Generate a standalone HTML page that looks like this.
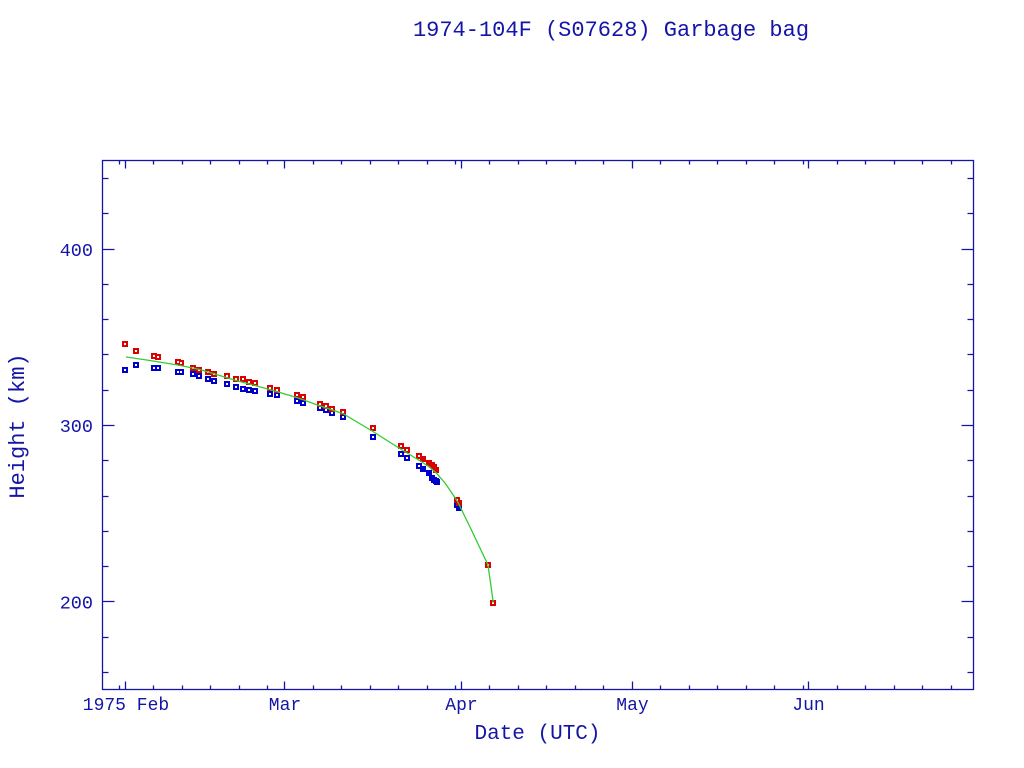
<!DOCTYPE html>
<html>
<head>
<meta charset="utf-8">
<style>
  html,body{margin:0;padding:0;background:#fff;}
  svg{display:block;}
  text{font-family:"Liberation Mono","DejaVu Sans Mono",monospace;fill:#1414a8;}
</style>
</head>
<body>
<svg width="1024" height="768" viewBox="0 0 1024 768" xmlns="http://www.w3.org/2000/svg">
  <rect x="0" y="0" width="1024" height="768" fill="#fff"/>

  <!-- title -->
  <text x="611" y="36" font-size="22" text-anchor="middle">1974-104F (S07628) Garbage bag</text>

  <!-- frame -->
  <g stroke="#1414a8" stroke-width="1.3" fill="none">
    <rect x="102.5" y="160.5" width="871" height="529"/>
    <!-- x ticks bottom & top -->
    <path d="
      M119.5 689.5V685.5 M125.5 689.5V681.5 M153.5 689.5V685.5 M182.5 689.5V685.5 M210.5 689.5V685.5 M239.5 689.5V685.5 M267.5 689.5V685.5
      M284.5 689.5V681.5 M313.5 689.5V685.5 M341.5 689.5V685.5 M370.5 689.5V685.5 M398.5 689.5V685.5 M427.5 689.5V685.5 M455.5 689.5V685.5
      M461.5 689.5V681.5 M489.5 689.5V685.5 M518.5 689.5V685.5 M546.5 689.5V685.5 M575.5 689.5V685.5 M603.5 689.5V685.5
      M632.5 689.5V681.5 M660.5 689.5V685.5 M689.5 689.5V685.5 M717.5 689.5V685.5 M746.5 689.5V685.5 M774.5 689.5V685.5 M803.5 689.5V685.5
      M808.5 689.5V681.5 M837.5 689.5V685.5 M865.5 689.5V685.5 M894.5 689.5V685.5 M922.5 689.5V685.5 M951.5 689.5V685.5
      M119.5 160.5V164.5 M125.5 160.5V168.5 M153.5 160.5V164.5 M182.5 160.5V164.5 M210.5 160.5V164.5 M239.5 160.5V164.5 M267.5 160.5V164.5
      M284.5 160.5V168.5 M313.5 160.5V164.5 M341.5 160.5V164.5 M370.5 160.5V164.5 M398.5 160.5V164.5 M427.5 160.5V164.5 M455.5 160.5V164.5
      M461.5 160.5V168.5 M489.5 160.5V164.5 M518.5 160.5V164.5 M546.5 160.5V164.5 M575.5 160.5V164.5 M603.5 160.5V164.5
      M632.5 160.5V168.5 M660.5 160.5V164.5 M689.5 160.5V164.5 M717.5 160.5V164.5 M746.5 160.5V164.5 M774.5 160.5V164.5 M803.5 160.5V164.5
      M808.5 160.5V168.5 M837.5 160.5V164.5 M865.5 160.5V164.5 M894.5 160.5V164.5 M922.5 160.5V164.5 M951.5 160.5V164.5
    "/>
    <!-- y ticks left & right -->
    <path d="
      M102.5 178.5H108.5 M102.5 213.5H108.5 M102.5 249.5H114.5 M102.5 284.5H108.5 M102.5 319.5H108.5 M102.5 354.5H108.5 M102.5 390.5H108.5
      M102.5 425.5H114.5 M102.5 460.5H108.5 M102.5 496.5H108.5 M102.5 531.5H108.5 M102.5 566.5H108.5 M102.5 601.5H114.5 M102.5 637.5H108.5 M102.5 672.5H108.5
      M973.5 178.5H967.5 M973.5 213.5H967.5 M973.5 249.5H961.5 M973.5 284.5H967.5 M973.5 319.5H967.5 M973.5 354.5H967.5 M973.5 390.5H967.5
      M973.5 425.5H961.5 M973.5 460.5H967.5 M973.5 496.5H967.5 M973.5 531.5H967.5 M973.5 566.5H967.5 M973.5 601.5H961.5 M973.5 637.5H967.5 M973.5 672.5H967.5
    "/>
  </g>

  <!-- y tick labels -->
  <text x="93" y="256" font-size="18.5" text-anchor="end">400</text>
  <text x="93" y="432" font-size="18.5" text-anchor="end">300</text>
  <text x="93" y="608.5" font-size="18.5" text-anchor="end">200</text>

  <!-- x tick labels -->
  <text x="126" y="710" font-size="18" text-anchor="middle">1975 Feb</text>
  <text x="285" y="710" font-size="18" text-anchor="middle">Mar</text>
  <text x="461.5" y="710" font-size="18" text-anchor="middle">Apr</text>
  <text x="632.5" y="710" font-size="18" text-anchor="middle">May</text>
  <text x="808.5" y="710" font-size="18" text-anchor="middle">Jun</text>

  <!-- axis labels -->
  <text x="537.5" y="739" font-size="21" text-anchor="middle">Date (UTC)</text>
  <text x="0" y="0" font-size="22" text-anchor="middle" transform="translate(24,426) rotate(-90)">Height (km)</text>

  <!-- blue markers -->
  <g fill="#0000cc">
    <rect x="122" y="367" width="6" height="6"/>
    <rect x="133" y="362" width="6" height="6"/>
    <rect x="151" y="365" width="6" height="6"/>
    <rect x="155" y="365" width="6" height="6"/>
    <rect x="175" y="369" width="6" height="6"/>
    <rect x="178" y="369" width="6" height="6"/>
    <rect x="190" y="371" width="6" height="6"/>
    <rect x="196" y="373" width="6" height="6"/>
    <rect x="205" y="376" width="6" height="6"/>
    <rect x="211" y="378" width="6" height="6"/>
    <rect x="224" y="381" width="6" height="6"/>
    <rect x="233" y="384" width="6" height="6"/>
    <rect x="240" y="386" width="6" height="6"/>
    <rect x="246" y="387" width="6" height="6"/>
    <rect x="252" y="388" width="6" height="6"/>
    <rect x="267" y="391" width="6" height="6"/>
    <rect x="274" y="392" width="6" height="6"/>
    <rect x="294" y="398" width="6" height="6"/>
    <rect x="300" y="400" width="6" height="6"/>
    <rect x="317" y="405" width="6" height="6"/>
    <rect x="323" y="407" width="6" height="6"/>
    <rect x="329" y="410" width="6" height="6"/>
    <rect x="340" y="414" width="6" height="6"/>
    <rect x="370" y="434" width="6" height="6"/>
    <rect x="398" y="451" width="6" height="6"/>
    <rect x="404" y="455" width="6" height="6"/>
    <rect x="416" y="463" width="6" height="6"/>
    <rect x="420" y="466" width="6" height="6"/>
    <rect x="426" y="470" width="6" height="6"/>
    <rect x="429" y="475" width="6" height="6"/>
    <rect x="431" y="477" width="6" height="6"/>
    <rect x="433" y="478" width="6" height="6"/>
    <rect x="434" y="479" width="6" height="6"/>
    <rect x="454" y="502" width="6" height="6"/>
    <rect x="456" y="505" width="6" height="6"/>
  </g>
  <g fill="#fff">
    <rect x="124" y="369" width="2" height="2"/>
    <rect x="135" y="364" width="2" height="2"/>
    <rect x="153" y="367" width="2" height="2"/>
    <rect x="157" y="367" width="2" height="2"/>
    <rect x="177" y="371" width="2" height="2"/>
    <rect x="180" y="371" width="2" height="2"/>
    <rect x="192" y="373" width="2" height="2"/>
    <rect x="198" y="375" width="2" height="2"/>
    <rect x="207" y="378" width="2" height="2"/>
    <rect x="213" y="380" width="2" height="2"/>
    <rect x="226" y="383" width="2" height="2"/>
    <rect x="235" y="386" width="2" height="2"/>
    <rect x="242" y="388" width="2" height="2"/>
    <rect x="248" y="389" width="2" height="2"/>
    <rect x="254" y="390" width="2" height="2"/>
    <rect x="269" y="393" width="2" height="2"/>
    <rect x="276" y="394" width="2" height="2"/>
    <rect x="296" y="400" width="2" height="2"/>
    <rect x="302" y="402" width="2" height="2"/>
    <rect x="319" y="407" width="2" height="2"/>
    <rect x="325" y="409" width="2" height="2"/>
    <rect x="331" y="412" width="2" height="2"/>
    <rect x="342" y="416" width="2" height="2"/>
    <rect x="372" y="436" width="2" height="2"/>
    <rect x="400" y="453" width="2" height="2"/>
    <rect x="406" y="457" width="2" height="2"/>
    <rect x="418" y="465" width="2" height="2"/>
    <rect x="456" y="504" width="2" height="2"/>
  </g>

  <!-- red markers -->
  <g fill="#dd0000">
    <rect x="122" y="341" width="6" height="6"/>
    <rect x="133" y="348" width="6" height="6"/>
    <rect x="151" y="353" width="6" height="6"/>
    <rect x="155" y="354" width="6" height="6"/>
    <rect x="175" y="359" width="6" height="6"/>
    <rect x="178" y="360" width="6" height="6"/>
    <rect x="190" y="365" width="6" height="6"/>
    <rect x="196" y="367" width="6" height="6"/>
    <rect x="205" y="369" width="6" height="6"/>
    <rect x="211" y="371" width="6" height="6"/>
    <rect x="224" y="373" width="6" height="6"/>
    <rect x="233" y="376" width="6" height="6"/>
    <rect x="240" y="376" width="6" height="6"/>
    <rect x="246" y="379" width="6" height="6"/>
    <rect x="252" y="380" width="6" height="6"/>
    <rect x="267" y="385" width="6" height="6"/>
    <rect x="274" y="387" width="6" height="6"/>
    <rect x="294" y="392" width="6" height="6"/>
    <rect x="300" y="394" width="6" height="6"/>
    <rect x="317" y="401" width="6" height="6"/>
    <rect x="323" y="403" width="6" height="6"/>
    <rect x="329" y="406" width="6" height="6"/>
    <rect x="340" y="409" width="6" height="6"/>
    <rect x="370" y="425" width="6" height="6"/>
    <rect x="398" y="443" width="6" height="6"/>
    <rect x="404" y="447" width="6" height="6"/>
    <rect x="416" y="453" width="6" height="6"/>
    <rect x="420" y="456" width="6" height="6"/>
    <rect x="426" y="460" width="6" height="6"/>
    <rect x="429" y="462" width="6" height="6"/>
    <rect x="431" y="464" width="6" height="6"/>
    <rect x="433" y="467" width="6" height="6"/>
    <rect x="454" y="497" width="6" height="6"/>
    <rect x="456" y="500" width="6" height="6"/>
    <rect x="485" y="562" width="6" height="6"/>
    <rect x="490" y="600" width="6" height="6"/>
  </g>
  <g fill="#fff">
    <rect x="124" y="343" width="2" height="2"/>
    <rect x="135" y="350" width="2" height="2"/>
    <rect x="153" y="355" width="2" height="2"/>
    <rect x="157" y="356" width="2" height="2"/>
    <rect x="177" y="361" width="2" height="2"/>
    <rect x="180" y="362" width="2" height="2"/>
    <rect x="192" y="367" width="2" height="2"/>
    <rect x="198" y="369" width="2" height="2"/>
    <rect x="207" y="371" width="2" height="2"/>
    <rect x="213" y="373" width="2" height="2"/>
    <rect x="226" y="375" width="2" height="2"/>
    <rect x="235" y="378" width="2" height="2"/>
    <rect x="242" y="378" width="2" height="2"/>
    <rect x="248" y="381" width="2" height="2"/>
    <rect x="254" y="382" width="2" height="2"/>
    <rect x="269" y="387" width="2" height="2"/>
    <rect x="276" y="389" width="2" height="2"/>
    <rect x="296" y="394" width="2" height="2"/>
    <rect x="302" y="396" width="2" height="2"/>
    <rect x="319" y="403" width="2" height="2"/>
    <rect x="325" y="405" width="2" height="2"/>
    <rect x="331" y="408" width="2" height="2"/>
    <rect x="342" y="411" width="2" height="2"/>
    <rect x="372" y="427" width="2" height="2"/>
    <rect x="400" y="445" width="2" height="2"/>
    <rect x="406" y="449" width="2" height="2"/>
    <rect x="418" y="455" width="2" height="2"/>
    <rect x="456" y="499" width="2" height="2"/>
    <rect x="487" y="564" width="2" height="2"/>
    <rect x="492" y="602" width="2" height="2"/>
  </g>

  <!-- fitted curve -->
  <polyline fill="none" stroke="#33cc33" stroke-width="1.3" points="
    126,357 150,360.5 177.7,365 200,369.5 236,380.5 255,385.5 276.7,391.5 297.3,397.7 320.3,406
    342.7,413.5 373,431.5 401.3,449.5 418.7,460 428.7,466.5 436.3,473 445,483 457.3,501 470,527 488,565 493.3,602.7"/>
</svg>
</body>
</html>
